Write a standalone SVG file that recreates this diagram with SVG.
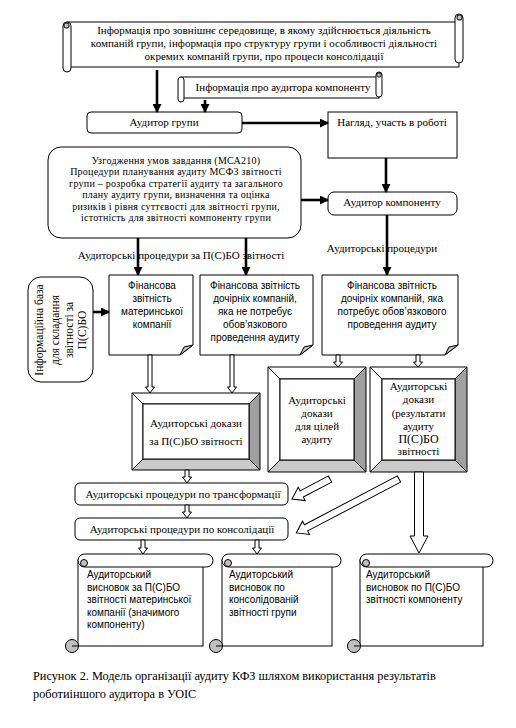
<svg xmlns="http://www.w3.org/2000/svg" width="516" height="728" viewBox="0 0 516 728">
<style>
.bx{fill:#fff;stroke:#000;stroke-width:1}
.gr{fill:#c0c0c0;stroke:#000;stroke-width:1}
.bvr{fill:#a0a0a0;stroke:#000;stroke-width:1}
.bvb{fill:#cacaca;stroke:#000;stroke-width:1}
.bvw{fill:#fff;stroke:#000;stroke-width:1}
.t{font-family:"Liberation Serif","Times New Roman",serif;font-size:11px;fill:#000;text-anchor:middle}
.tp{font-family:"Liberation Serif","Times New Roman",serif;font-size:10px;letter-spacing:0.25px;fill:#000;text-anchor:middle}
.s{font-family:"Liberation Sans",Arial,sans-serif;font-size:10px;fill:#000;text-anchor:middle}
.sl{font-family:"Liberation Sans",Arial,sans-serif;font-size:10px;fill:#000}
.cap{font-family:"Liberation Serif","Times New Roman",serif;font-size:12.3px;fill:#000}
.ln{stroke:#000;stroke-width:2.6;fill:none;marker-end:url(#ah)}
.ha{fill:#fff;stroke:#000;stroke-width:1}
</style>
<defs>
<marker id="ah" markerUnits="userSpaceOnUse" markerWidth="9" markerHeight="9" refX="8" refY="4.5" orient="auto">
<path d="M0,0 L9,4.5 L0,9 Z" fill="#000"/>
</marker>
</defs>
<rect width="516" height="728" fill="#fff"/>

<g id="n-info-env">
<rect class="bx" x="67" y="22" width="392" height="45"/>
<rect class="bx" x="63" y="22" width="8" height="50" rx="4"/>
<rect class="bx" x="455" y="14" width="8" height="49" rx="4"/>
<rect class="gr" x="64" y="23" width="5" height="5" rx="2"/>
<rect class="gr" x="457" y="15" width="5" height="5" rx="2"/>
<text class="t" x="264" y="34">Інформація про зовнішнє середовище, в якому здійснюється діяльність</text>
<text class="t" x="264" y="47">компаній групи, інформація  про структуру групи і особливості діяльності</text>
<text class="t" x="264" y="60">окремих компаній групи, про процеси консолідації</text>
</g>

<g id="n-info-aud">
<rect class="bx" x="181" y="77" width="198" height="21"/>
<rect class="bx" x="178" y="77" width="6" height="25" rx="3"/>
<rect class="bx" x="376" y="72" width="6" height="25" rx="3"/>
<rect class="gr" x="377" y="73" width="4" height="4" rx="1.5"/>
<text class="t" x="283" y="91">Інформація про аудитора компоненту</text>
</g>

<g id="n-group-aud">
<rect class="bx" x="87" y="112" width="155" height="21" rx="4"/>
<text class="t" x="164" y="126">Аудитор групи</text>
</g>

<g id="n-supervision">
<rect class="bx" x="328" y="112" width="129" height="46"/>
<text class="t" x="392" y="126">Нагляд, участь в роботі</text>
</g>

<g id="n-planning">
<rect class="bx" x="48" y="147" width="253" height="91" rx="13"/>
<text class="tp" x="176" y="164">Узгодження умов завдання (МСА210)</text>
<text class="tp" x="176" y="175.4">Процедури планування  аудиту МСФЗ звітності</text>
<text class="tp" x="176" y="186.8">групи – розробка стратегії аудиту та загального</text>
<text class="tp" x="176" y="198.2">плану аудиту групи, визначення та оцінка</text>
<text class="tp" x="176" y="209.6">ризиків  і рівня  суттєвості для звітності групи,</text>
<text class="tp" x="176" y="221">істотність для звітності компоненту групи</text>
</g>

<g id="n-comp-aud">
<rect class="bx" x="328" y="192" width="129" height="23" rx="6"/>
<text class="t" x="392" y="206">Аудитор компоненту</text>
</g>

<g id="labels">
<text class="t" x="181" y="259">Аудиторські  процедури за П(С)БО звітності</text>
<text class="t" x="382" y="252">Аудиторські процедури</text>
</g>

<g id="n-info-base">
<rect class="bx" x="28" y="277" width="65" height="105" rx="13"/>
<g transform="translate(0,330) rotate(-90)">
<text class="t" x="0" y="43" style="font-size:11.5px">Інформаційна база</text>
<text class="t" x="0" y="59" style="font-size:11.5px">для складання</text>
<text class="t" x="0" y="73" style="font-size:11.5px">звітності за</text>
<text class="t" x="0" y="86" style="font-size:11.5px">П(С)БО</text>
</g>
</g>

<g id="n-fin-parent">
<path class="bx" d="M109,275 H193 V345 L180,355 H109 Z"/>
<path class="gr" d="M180,355 L193,345 L184,347 Z"/>
<text class="s" x="152" y="289">Фінансова</text>
<text class="s" x="152" y="302">звітність</text>
<text class="s" x="152" y="315">материнської</text>
<text class="s" x="152" y="328">компанії</text>
</g>

<g id="n-fin-sub-noaudit">
<path class="bx" d="M200,275 H313 V345 L300,355 H200 Z"/>
<path class="gr" d="M300,355 L313,345 L304,347 Z"/>
<text class="s" x="255" y="289">Фінансова звітність</text>
<text class="s" x="255" y="302">дочірніх компаній,</text>
<text class="s" x="255" y="315">яка не потребує</text>
<text class="s" x="255" y="328">обов’язкового</text>
<text class="s" x="255" y="341">проведення аудиту</text>
</g>

<g id="n-fin-sub-audit">
<path class="bx" d="M322,275 H458 V345 L445,355 H322 Z"/>
<path class="gr" d="M445,355 L458,345 L449,347 Z"/>
<text class="s" x="392" y="289">Фінансова звітність</text>
<text class="s" x="392" y="302">дочірніх компаній, яка</text>
<text class="s" x="392" y="315">потребує обов’язкового</text>
<text class="s" x="392" y="328">проведення аудиту</text>
</g>

<g id="n-evid-1">
<polygon class="bvw" points="132,393 260,393 249,404 143,404"/>
<polygon class="bvw" points="132,393 143,404 143,459 132,470"/>
<polygon class="bvr" points="260,393 260,470 249,459 249,404"/>
<polygon class="bvb" points="132,470 143,459 249,459 260,470"/>
<rect class="bx" x="143" y="404" width="106" height="55"/>
<text class="t" x="196" y="427">Аудиторські докази</text>
<text class="t" x="196" y="445">за П(С)БО звітності</text>
</g>

<g id="n-evid-2">
<polygon class="bvw" points="268,367 366,367 354,379 280,379"/>
<polygon class="bvw" points="268,367 280,379 280,460 268,472"/>
<polygon class="bvr" points="366,367 366,472 354,460 354,379"/>
<polygon class="bvb" points="268,472 280,460 354,460 366,472"/>
<rect class="bx" x="280" y="379" width="74" height="81"/>
<text class="t" x="317" y="404">Аудиторські</text>
<text class="t" x="317" y="417">докази</text>
<text class="t" x="317" y="430">для цілей</text>
<text class="t" x="317" y="443">аудиту</text>
</g>

<g id="n-evid-3">
<polygon class="bvw" points="370,367 467,367 455,379 382,379"/>
<polygon class="bvw" points="370,367 382,379 382,460 370,472"/>
<polygon class="bvr" points="467,367 467,472 455,460 455,379"/>
<polygon class="bvb" points="370,472 382,460 455,460 467,472"/>
<rect class="bx" x="382" y="379" width="73" height="81"/>
<text class="t" x="418.5" y="390">Аудиторські</text>
<text class="t" x="418.5" y="403">докази</text>
<text class="t" x="418.5" y="416.5">(результати</text>
<text class="t" x="418.5" y="429.5">аудиту</text>
<text class="t" x="418.5" y="442.5" style="font-size:12px">П(С)БО</text>
<text class="t" x="418.5" y="455">звітності</text>
</g>

<g id="n-transform">
<rect class="bx" x="75" y="483" width="213" height="22" rx="5"/>
<text class="t" x="183" y="498">Аудиторські процедури по трансформації</text>
</g>

<g id="n-consol">
<rect class="bx" x="75" y="518" width="213" height="22" rx="5"/>
<text class="t" x="182" y="533">Аудиторські процедури  по консолідації</text>
</g>

<g id="n-concl-1">
<rect class="bx" x="78" y="560" width="125" height="86"/>
<rect class="bx" x="78" y="554" width="135" height="13" rx="6.5"/>
<circle class="gr" cx="84" cy="563" r="3.5"/>
<circle class="gr" cx="72" cy="646" r="6.5"/>
<line x1="72" y1="646" x2="78" y2="646" stroke="#000"/>
<text class="sl" x="87" y="578">Аудиторський</text>
<text class="sl" x="87" y="590.5">висновок  за П(С)БО</text>
<text class="sl" x="87" y="603">звітності материнської</text>
<text class="sl" x="87" y="615.5">компанії (значимого</text>
<text class="sl" x="87" y="628">компоненту)</text>
</g>

<g id="n-concl-2">
<rect class="bx" x="222" y="560" width="110" height="86"/>
<rect class="bx" x="222" y="554" width="119" height="13" rx="6.5"/>
<circle class="gr" cx="228" cy="563" r="3.5"/>
<circle class="gr" cx="216" cy="646" r="6.5"/>
<line x1="216" y1="646" x2="222" y2="646" stroke="#000"/>
<text class="sl" x="229" y="578">Аудиторський</text>
<text class="sl" x="229" y="590.5">висновок  по</text>
<text class="sl" x="229" y="603">консолідованій</text>
<text class="sl" x="229" y="615.5">звітності групи</text>
</g>

<g id="n-concl-3">
<rect class="bx" x="360" y="560" width="123" height="86"/>
<rect class="bx" x="360" y="554" width="133" height="13" rx="6.5"/>
<circle class="gr" cx="366" cy="563" r="3.5"/>
<circle class="gr" cx="354" cy="646" r="6.5"/>
<line x1="354" y1="646" x2="360" y2="646" stroke="#000"/>
<text class="sl" x="366" y="578">Аудиторський</text>
<text class="sl" x="366" y="590.5">висновок  по П(С)БО</text>
<text class="sl" x="366" y="603">звітності компоненту</text>
</g>

<g id="connectors">
<line class="ln" x1="157" y1="70" x2="157" y2="112"/>
<line class="ln" x1="205" y1="100" x2="205" y2="112"/>
<line class="ln" x1="242" y1="123" x2="328" y2="123"/>
<line class="ln" x1="386" y1="158" x2="386" y2="192"/>
<line class="ln" x1="301" y1="200" x2="328" y2="200"/>
<line class="ln" x1="138" y1="238" x2="138" y2="275"/>
<line class="ln" x1="246" y1="238" x2="246" y2="275"/>
<line class="ln" x1="387" y1="215" x2="387" y2="275"/>
<line class="ln" x1="93" y1="312" x2="109" y2="312"/>
<polygon class="ha" points="148,355 152,355 152,387 154.5,387 150,393 145.5,387 148,387"/>
<polygon class="ha" points="230,355 234,355 234,387 236.5,387 232,393 227.5,387 230,387"/>
<polygon class="ha" points="336,355 340,355 340,362 342.5,362 338,367 333.5,362 336,362"/>
<polygon class="ha" points="416,355 420,355 420,362 422.5,362 418,367 413.5,362 416,362"/>
<polygon class="ha" points="185,470 189,470 189,477 191.5,477 187,483 182.5,477 185,477"/>
<polygon class="ha" points="185,505 189,505 189,512 191.5,512 187,518 182.5,512 185,512"/>
<polygon class="ha" points="141,540 145,540 145,548 147.5,548 143,554 138.5,548 141,548"/>
<polygon class="ha" points="255,540 259,540 259,548 261.5,548 257,554 252.5,548 255,548"/>
<polygon class="ha" points="414.5,472 423.5,472 423.5,536 428,536 419,553 410,536 414.5,536"/>
<polygon class="ha" transform="translate(330,479) rotate(152.2)" points="0,-3.5 32,-3.5 32,-7.5 43,0 32,7.5 32,3.5 0,3.5"/>
<polygon class="ha" transform="translate(399,479) rotate(152.3)" points="0,-3.5 105,-3.5 105,-7.5 116,0 105,7.5 105,3.5 0,3.5"/>
</g>

<g id="caption">
<text class="cap" x="33" y="680">Рисунок 2. Модель організації аудиту КФЗ шляхом використання результатів</text>
<text class="cap" x="33" y="698">роботиіншого аудитора в УОІС</text>
</g>
</svg>
